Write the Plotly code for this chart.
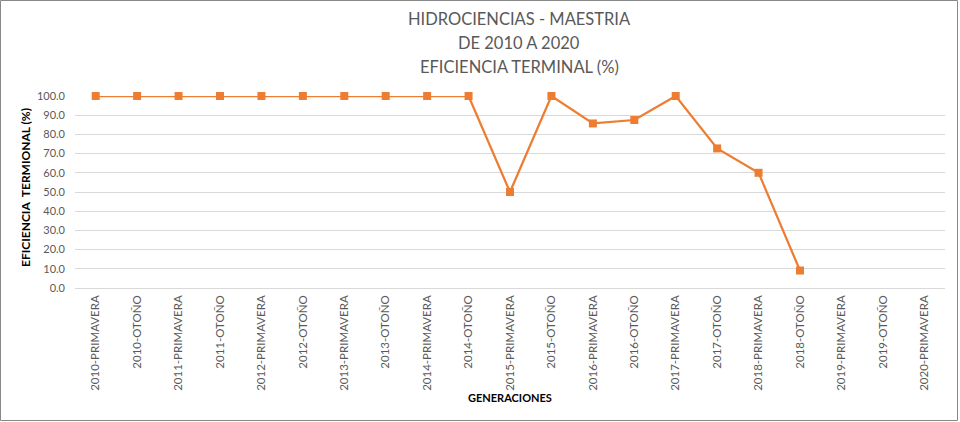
import plotly.graph_objects as go

categories = [
    "2010-PRIMAVERA", "2010-OTOÑO", "2011-PRIMAVERA", "2011-OTOÑO",
    "2012-PRIMAVERA", "2012-OTOÑO", "2013-PRIMAVERA", "2013-OTOÑO",
    "2014-PRIMAVERA", "2014-OTOÑO", "2015-PRIMAVERA", "2015-OTOÑO",
    "2016-PRIMAVERA", "2016-OTOÑO", "2017-PRIMAVERA", "2017-OTOÑO",
    "2018-PRIMAVERA", "2018-OTOÑO", "2019-PRIMAVERA", "2019-OTOÑO",
    "2020-PRIMAVERA",
]
eficiencia = [100, 100, 100, 100, 100, 100, 100, 100, 100, 100,
              50, 100, 85.7, 87.5, 100, 72.7, 60, 9.1, None, None, None]
y_ticks = [0, 10, 20, 30, 40, 50, 60, 70, 80, 90, 100]
title_lines = ["HIDROCIENCIAS - MAESTRIA", "DE 2010 A 2020", "EFICIENCIA TERMINAL (%)"]

FONT = "Lato, 'Liberation Sans', sans-serif"
GRAY = "#595959"

fig = go.Figure()
fig.add_trace(go.Scatter(
    x=categories, y=eficiencia, mode="lines+markers",
    line=dict(color="#ED7D31", width=2.25),
    marker=dict(symbol="square", size=8, color="#ED7D31"),
    cliponaxis=False, connectgaps=False, showlegend=False,
))

L, R, T, B = 75, 15, 96, 134
W = 960 - L - R
H = 422 - T - B

def px_y(py):
    return (422 - B - py) / H

anns = []
for i, line in enumerate(title_lines):
    anns.append(dict(
        text=line, xref="paper", yref="paper", x=(519 - L) / W, y=px_y(19 + 24 * i),
        xanchor="center", yanchor="middle", showarrow=False,
        font=dict(family=FONT, size=16.5, color=GRAY),
    ))
anns += [
    dict(
        text="<b>GENERACIONES</b>", xref="paper", yref="paper",
        x=0.5, y=px_y(397), xanchor="center", yanchor="middle",
        showarrow=False, font=dict(family=FONT, size=11, color="black"),
    ),
    dict(
        text="<b>EFICIENCIA  TERMIONAL (%)</b>", xref="paper", yref="paper",
        x=(25 - L) / W, y=px_y(188), xanchor="center", yanchor="middle",
        textangle=-90, showarrow=False, font=dict(family=FONT, size=12, color="black"),
    ),
]

fig.update_layout(
    width=960, height=422,
    margin=dict(l=L, r=R, t=T, b=B),
    paper_bgcolor="white", plot_bgcolor="white",
    font=dict(family=FONT, color=GRAY, size=11),
    xaxis=dict(
        type="category", categoryorder="array", categoryarray=categories,
        range=[-0.5, len(categories) - 0.5], automargin=False,
        tickangle=-90, showgrid=False, ticks="", showline=False,
        ticklabelstandoff=4,
        tickfont=dict(family=FONT, size=11.5, color=GRAY),
    ),
    yaxis=dict(
        range=[0, 100], tickvals=y_ticks, tickformat=".1f", automargin=False,
        showgrid=True, gridcolor="#D9D9D9", gridwidth=1,
        zeroline=True, zerolinecolor="#D9D9D9", zerolinewidth=1,
        showline=False, ticks="", ticklen=0, ticklabelstandoff=9,
        tickfont=dict(family=FONT, size=11, color=GRAY),
    ),
    annotations=anns,
    shapes=[dict(
        type="rect", xref="paper", yref="paper",
        x0=(0.5 - L) / W, x1=(957.5 - L) / W,
        y0=px_y(420.5), y1=px_y(0.5),
        line=dict(color="#888888", width=1), fillcolor="rgba(0,0,0,0)", layer="below",
    )],
)

fig.write_html("out.html")
